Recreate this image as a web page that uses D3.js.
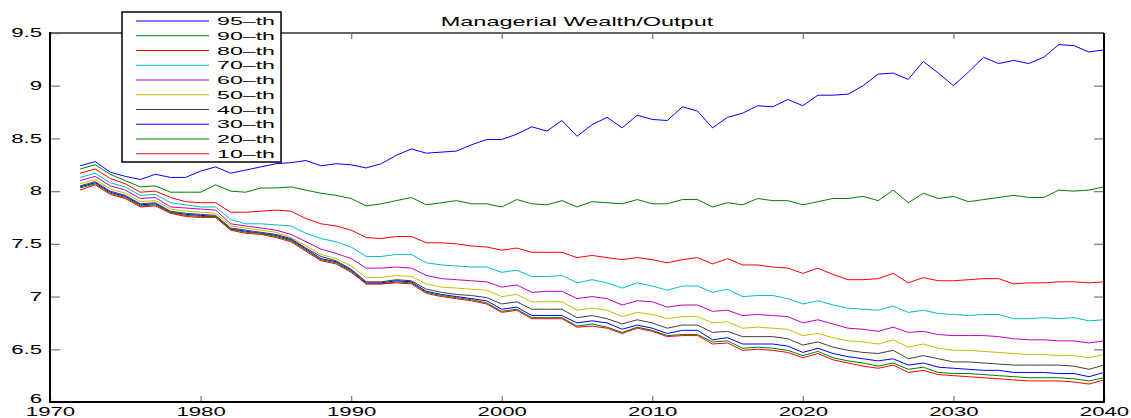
<!DOCTYPE html>
<html>
<head>
<meta charset="utf-8">
<script src="https://cdn.jsdelivr.net/npm/d3@7"></script>
<style>
  html, body { margin: 0; padding: 0; background: #ffffff; }
  svg { display: block; font-family: "Liberation Sans", Arial, Helvetica, sans-serif; }
</style>
</head>
<body>
<script>
// ---------------- DATA ----------------
const years = d3.range(1972, 2041); // 1972..2040

const p95 = [8.24,8.28,8.18,8.14,8.11,8.16,8.13,8.13,8.19,8.23,8.17,8.20,8.23,8.26,8.27,8.29,8.24,8.26,8.25,8.22,
             8.26,8.34,8.40,8.36,8.37,8.38,8.44,8.49,8.49,8.54,8.61,8.57,8.67,8.52,8.63,8.70,8.60,8.72,8.68,8.67,
             8.80,8.76,8.60,8.70,8.74,8.81,8.80,8.87,8.81,8.91,8.91,8.92,9.00,9.11,9.12,9.06,9.23,9.12,9.00,9.13,
             9.27,9.21,9.24,9.21,9.27,9.39,9.38,9.32,9.34];
const p90 = [8.21,8.25,8.16,8.10,8.04,8.05,7.99,7.99,7.99,8.06,8.00,7.99,8.03,8.03,8.04,8.01,7.98,7.96,7.93,7.86,
             7.88,7.91,7.94,7.87,7.89,7.91,7.88,7.88,7.85,7.92,7.88,7.87,7.91,7.85,7.90,7.89,7.88,7.92,7.88,7.88,
             7.92,7.92,7.85,7.89,7.87,7.93,7.91,7.91,7.87,7.90,7.93,7.93,7.95,7.91,8.01,7.89,7.98,7.93,7.95,7.90,
             7.92,7.94,7.96,7.94,7.94,8.01,8.00,8.01,8.04];
const p80 = [8.17,8.21,8.12,8.07,7.99,8.00,7.94,7.90,7.89,7.89,7.80,7.80,7.81,7.82,7.81,7.74,7.69,7.67,7.63,7.56,
             7.55,7.57,7.57,7.51,7.51,7.50,7.48,7.47,7.44,7.46,7.42,7.42,7.42,7.37,7.39,7.37,7.35,7.37,7.35,7.32,
             7.35,7.37,7.31,7.36,7.30,7.30,7.28,7.27,7.22,7.27,7.21,7.16,7.16,7.17,7.22,7.13,7.18,7.15,7.15,7.16,
             7.17,7.17,7.12,7.13,7.13,7.14,7.14,7.13,7.14];
const p70 = [8.13,8.17,8.08,8.04,7.96,7.97,7.89,7.87,7.85,7.85,7.73,7.69,7.69,7.68,7.67,7.60,7.55,7.52,7.47,7.38,
             7.38,7.40,7.40,7.32,7.30,7.29,7.28,7.28,7.23,7.25,7.19,7.19,7.20,7.13,7.16,7.13,7.08,7.13,7.10,7.06,
             7.10,7.10,7.04,7.07,7.00,7.01,7.01,6.98,6.93,6.96,6.92,6.89,6.88,6.87,6.91,6.85,6.87,6.84,6.83,6.82,
             6.83,6.83,6.79,6.79,6.80,6.79,6.80,6.77,6.78];
const p60 = [8.10,8.14,8.05,8.01,7.93,7.94,7.85,7.84,7.83,7.82,7.69,7.67,7.65,7.63,7.59,7.52,7.45,7.41,7.36,7.27,
             7.27,7.28,7.27,7.20,7.17,7.16,7.15,7.14,7.09,7.11,7.04,7.05,7.05,6.98,7.00,6.98,6.92,6.96,6.95,6.90,
             6.92,6.92,6.86,6.87,6.82,6.83,6.82,6.81,6.75,6.78,6.74,6.70,6.69,6.67,6.71,6.66,6.67,6.64,6.63,6.63,
             6.63,6.62,6.60,6.59,6.59,6.58,6.58,6.56,6.58];
const p50 = [8.07,8.11,8.02,7.98,7.90,7.91,7.83,7.81,7.80,7.79,7.67,7.65,7.63,7.61,7.56,7.48,7.40,7.36,7.29,7.18,
             7.18,7.20,7.19,7.12,7.09,7.08,7.07,7.06,7.00,7.02,6.95,6.95,6.95,6.87,6.89,6.87,6.81,6.85,6.83,6.79,
             6.81,6.81,6.75,6.76,6.70,6.71,6.70,6.69,6.63,6.65,6.61,6.58,6.57,6.55,6.59,6.52,6.55,6.51,6.49,6.49,
             6.48,6.47,6.46,6.45,6.45,6.44,6.44,6.42,6.45];
const p40 = [8.05,8.09,8.00,7.96,7.88,7.89,7.81,7.79,7.78,7.77,7.65,7.63,7.61,7.59,7.55,7.46,7.38,7.34,7.26,7.14,
             7.14,7.16,7.15,7.07,7.04,7.02,7.01,6.99,6.93,6.95,6.88,6.88,6.88,6.80,6.82,6.79,6.74,6.78,6.75,6.70,
             6.73,6.73,6.66,6.67,6.62,6.62,6.62,6.60,6.54,6.57,6.52,6.49,6.47,6.46,6.49,6.41,6.44,6.41,6.38,6.38,
             6.37,6.36,6.35,6.35,6.35,6.35,6.34,6.31,6.35];
const p30 = [8.04,8.08,7.99,7.95,7.87,7.88,7.80,7.78,7.77,7.76,7.64,7.62,7.60,7.58,7.54,7.45,7.36,7.33,7.25,7.13,
             7.13,7.15,7.14,7.05,7.02,7.00,6.98,6.96,6.88,6.90,6.82,6.82,6.82,6.75,6.77,6.75,6.69,6.73,6.70,6.65,
             6.68,6.68,6.59,6.61,6.55,6.55,6.55,6.53,6.47,6.51,6.46,6.43,6.41,6.39,6.41,6.35,6.37,6.33,6.32,6.31,
             6.30,6.30,6.28,6.28,6.28,6.27,6.27,6.24,6.28];
const p20 = [8.03,8.07,7.98,7.94,7.86,7.87,7.80,7.77,7.76,7.76,7.64,7.61,7.60,7.57,7.53,7.44,7.35,7.32,7.24,7.12,
             7.12,7.14,7.13,7.04,7.01,6.99,6.97,6.94,6.86,6.88,6.80,6.80,6.80,6.72,6.74,6.71,6.66,6.71,6.68,6.63,
             6.64,6.64,6.57,6.58,6.51,6.52,6.51,6.49,6.44,6.48,6.42,6.39,6.37,6.34,6.37,6.31,6.33,6.28,6.27,6.27,
             6.26,6.25,6.24,6.23,6.23,6.23,6.22,6.20,6.23];
const p10 = [8.01,8.06,7.97,7.93,7.85,7.86,7.79,7.76,7.75,7.75,7.63,7.60,7.59,7.56,7.52,7.43,7.34,7.31,7.23,7.12,
             7.12,7.13,7.12,7.03,7.00,6.98,6.96,6.93,6.85,6.87,6.79,6.79,6.79,6.71,6.72,6.70,6.65,6.70,6.67,6.62,
             6.63,6.63,6.55,6.56,6.49,6.50,6.49,6.47,6.42,6.46,6.40,6.37,6.34,6.32,6.35,6.28,6.30,6.26,6.25,6.24,
             6.23,6.22,6.21,6.20,6.20,6.20,6.19,6.17,6.21];

const seriesNames = ["95\u2013th","90\u2013th","80\u2013th","70\u2013th","60\u2013th","50\u2013th","40\u2013th","30\u2013th","20\u2013th","10\u2013th"];
const seriesValues = [p95,p90,p80,p70,p60,p50,p40,p30,p20,p10];
const seriesColors = ["#0000ff","#008000","#ff0000","#00bfbf","#bf00bf","#bfbf00","#404040","#0000ff","#008000","#ff0000"];

const xTicks = [1970,1980,1990,2000,2010,2020,2030,2040];
const yTicks = [6,6.5,7,7.5,8,8.5,9,9.5];
const titleText = "Managerial Wealth/Output";

// ---------------- CHART ----------------
const W = 1131, H = 418;
const L = 50, R = 1104, T = 33, B = 402;

const svg = d3.select("body").append("svg").attr("width", W).attr("height", H);
svg.append("rect").attr("width", W).attr("height", H).attr("fill", "#fff");

const x = d3.scaleLinear().domain([1970, 2040]).range([L, R]);
const y = d3.scaleLinear().domain([6, 9.5]).range([B, T]);

const fmtY = d3.format("~g");
const fmtX = d3.format("d");

// axes (inner ticks)
const gLeft = svg.append("g").attr("transform", `translate(${L},0)`)
  .call(d3.axisLeft(y).tickValues(yTicks).tickSize(-10).tickPadding(8).tickFormat(fmtY));
const gRight = svg.append("g").attr("transform", `translate(${R},0)`)
  .call(d3.axisRight(y).tickValues(yTicks).tickSize(-10).tickFormat(""));
const gBottom = svg.append("g").attr("transform", `translate(0,${B})`)
  .call(d3.axisBottom(x).tickValues(xTicks).tickSize(-6).tickPadding(5).tickFormat(fmtX));
const gTop = svg.append("g").attr("transform", `translate(0,${T})`)
  .call(d3.axisTop(x).tickValues(xTicks).tickSize(-6).tickFormat(""));

[gLeft, gRight, gBottom, gTop].forEach(g => {
  g.select(".domain").remove();
  g.selectAll(".tick line").attr("stroke", "#808080").attr("stroke-width", 1.3);
});

gLeft.selectAll(".tick text")
  .attr("x", 0)
  .attr("transform", d => d === yTicks[0] ? "translate(-8,-3.5) scale(1.85,1)" : "translate(-8,0) scale(1.85,1)")
  .attr("font-size", 12).attr("fill", "#000")
  .attr("font-family", "Liberation Sans, Arial, sans-serif");

gBottom.selectAll(".tick text")
  .attr("y", 0)
  .attr("transform", "translate(0,5.5) scale(1.85,1)")
  .attr("font-size", 12).attr("fill", "#000")
  .attr("font-family", "Liberation Sans, Arial, sans-serif");

// lines
const line = d3.line().x((d, i) => x(years[i])).y(d => y(d));
const gLines = svg.append("g");
seriesValues.forEach((vals, k) => {
  gLines.append("path")
    .datum(vals)
    .attr("d", line)
    .attr("fill", "none")
    .attr("stroke", seriesColors[k])
    .attr("stroke-width", 1)
    .attr("stroke-linejoin", "round");
});

// frame
svg.append("line").attr("x1", L).attr("x2", R).attr("y1", T).attr("y2", T)
  .attr("stroke", "#666").attr("stroke-width", 2);
svg.append("line").attr("x1", R).attr("x2", R).attr("y1", T).attr("y2", B)
  .attr("stroke", "#000").attr("stroke-width", 2);
svg.append("line").attr("x1", L).attr("x2", L).attr("y1", T - 1).attr("y2", B + 1)
  .attr("stroke", "#000").attr("stroke-width", 2);
svg.append("line").attr("x1", L - 1).attr("x2", R + 1).attr("y1", B).attr("y2", B)
  .attr("stroke", "#000").attr("stroke-width", 2);

// title
svg.append("text")
  .attr("transform", `translate(${(L + R) / 2},26) scale(1.96,1)`)
  .attr("text-anchor", "middle")
  .attr("font-size", 12)
  .attr("fill", "#000")
  .text(titleText);

// legend
const lg = svg.append("g");
lg.append("rect").attr("x", 122).attr("y", 12).attr("width", 159).attr("height", 150)
  .attr("fill", "#fff").attr("stroke", "#000").attr("stroke-width", 1.5);
seriesNames.forEach((name, i) => {
  const yy = 21 + i * 14.75;
  lg.append("line").attr("x1", 136).attr("x2", 209).attr("y1", yy).attr("y2", yy)
    .attr("stroke", seriesColors[i]).attr("stroke-width", 1);
  lg.append("text").attr("x", 217).attr("y", yy + 4)
    .attr("font-size", 11).attr("fill", "#000")
    .attr("textLength", 58).attr("lengthAdjust", "spacingAndGlyphs")
    .text(name);
});
</script>
</body>
</html>
